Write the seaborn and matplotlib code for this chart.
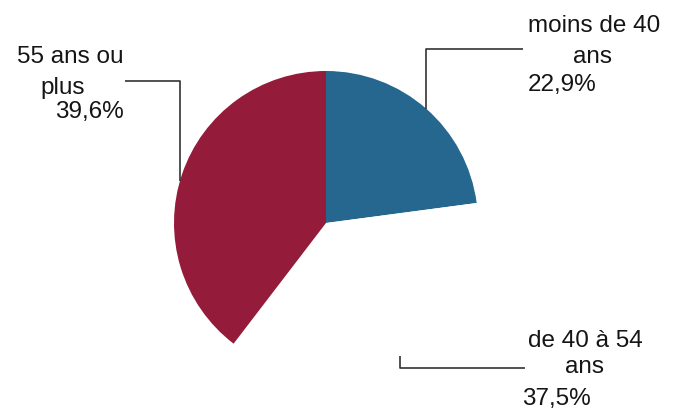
import numpy as np
import matplotlib
matplotlib.use('Agg')
import matplotlib.pyplot as plt
import seaborn as sns

# Age groups, share of the total (%)
groups = ['moins de 40 ans', 'de 40 à 54 ans', '55 ans ou plus']
shares = [22.9, 37.5, 39.6]
label_lines = [['moins de 40', 'ans'], ['de 40 à 54', 'ans'], ['55 ans ou', 'plus']]
colors = ['#25678e', '#ffffff', '#941b39']

sns.set_theme(style='white')
plt.rcParams['font.family'] = ['Liberation Sans', 'DejaVu Sans']

W, H = 677, 410
fig = plt.figure(figsize=(W / 100, H / 100), dpi=100)
ax = fig.add_axes([0, 0, 1, 1])

# work in pixel coords measured from the top
def py(y):
    return H - y

cx, cy, r = 326, 224, 152
ax.pie(shares, colors=colors, startangle=90, counterclock=False,
       center=(cx, py(cy)), radius=r, frame=True,
       wedgeprops=dict(linewidth=0))
ax.set_xlim(0, W)
ax.set_ylim(0, H)
ax.set_aspect('equal')
ax.axis('off')

def edge_y(x, side):
    d = np.sqrt(max(r ** 2 - (x - cx) ** 2, 0))
    return cy - d if side == 'top' else cy + d

line_kw = dict(color='#333333', lw=1.2, solid_capstyle='butt')

# leader lines: (text end x, elbow x, elbow y, side of the circle)
leaders = [(523, 426, 50, 'top'), (525, 400, 369, 'bottom'), (125, 180, 82, 'top')]
for x0, xe, ye, side in leaders:
    ye2 = edge_y(xe, side)
    ax.plot([x0, xe, xe], [py(ye), py(ye), py(ye2)], **line_kw)

# text placement (centre x of each line, baselines)
text_pos = [
    [(594, 32), (593, 63), (562, 91)],
    [(585, 347), (584, 373), (556, 405)],
    [(70, 63), (63, 94), (89, 118)],
]
for lines, share, pos in zip(label_lines, shares, text_pos):
    pct = f'{share:.1f}'.replace('.', ',') + '%'
    for txt, (x, y) in zip(lines + [pct], pos):
        ax.text(x, py(y), txt, ha='center', va='baseline', fontsize=17.5,
                color='#151515')

fig.savefig('out.png', dpi=100)
